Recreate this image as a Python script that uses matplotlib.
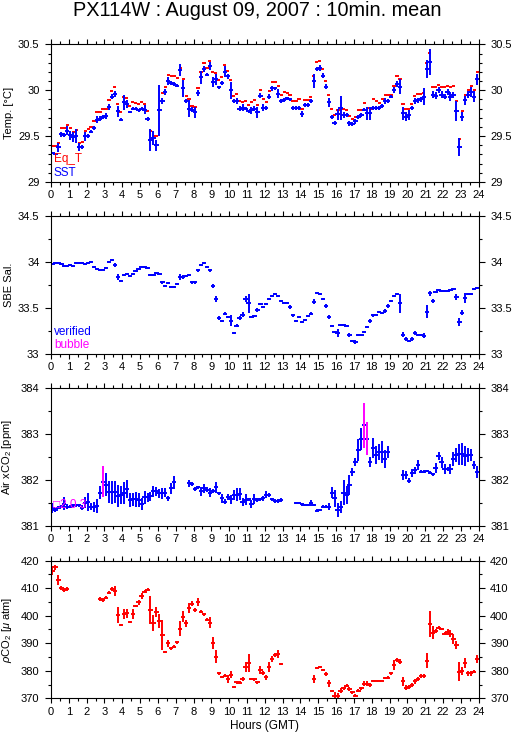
import numpy as np
import matplotlib
matplotlib.use('Agg')
import matplotlib.pyplot as plt
from matplotlib.ticker import MultipleLocator, FormatStrFormatter

plt.rcParams['font.family'] = ['Liberation Sans', 'DejaVu Sans']
plt.rcParams['mathtext.fontset'] = 'custom'
plt.rcParams['mathtext.rm'] = 'Liberation Sans'
plt.rcParams['mathtext.it'] = 'Liberation Sans:italic'

# 10-minute bins over the day (hours GMT)
hours = (np.arange(144) + 0.5) / 6.0

# --- temperature ---
sst = np.array([
    29.32, 29.31, 29.38, 29.52, 29.51, 29.56, 29.51, 29.49, 29.50, 29.38, 29.38, 29.50,
    29.50, 29.55, 29.59, 29.68, 29.69, 29.71, 29.72, 29.82, 29.93, 29.96, 29.77, 29.68,
    29.87, 29.85, 29.76, 29.80, 29.80, 29.78, 29.80, 29.79, 29.69, 29.46, 29.48, 29.40,
    29.78, 29.88, 29.98, 30.10, 30.08, 30.07, 30.05, 30.22, 30.02, 29.88, 29.80, 29.79,
    29.76, 29.97, 30.14, 30.23, 30.17, 30.26, 30.09, 30.12, 30.03, 30.08, 30.20, 30.15,
    30.00, 29.88, 29.88, 29.80, 29.81, 29.80, 29.77, 29.78, 29.80, 29.76, 29.94, 29.81,
    29.81, 29.93, 30.02, 30.02, 29.96, 29.88, 29.89, 29.91, 29.90, 29.81, 29.81, 29.81,
    29.74, 29.84, 29.84, 29.88, 30.10, 30.23, 30.24, 30.16, 30.04, 29.87, 29.71, 29.64,
    29.74, 29.81, 29.73, 29.73, 29.64, 29.63, 29.66, 29.71, 29.73, 29.79, 29.75, 29.75,
    29.81, 29.81, 29.81, 29.83, 29.88, 29.88, 29.93, 30.00, 30.07, 30.04, 29.75, 29.71,
    29.73, 29.81, 29.88, 29.89, 29.90, 29.93, 30.23, 30.31, 29.95, 29.94, 30.00, 29.95,
    29.93, 29.98, 29.93, 29.95, 29.77, 29.38, 29.71, 29.89, 29.95, 29.98, 29.93, 30.12,
], dtype=float)

sst_sd = np.array([
    .01, .01, .05, .03, .02, .045, .05, .055, .075, .045, .02, .05,
    .02, .02, .02, .04, .03, .02, .03, .03, .03, .03, .06, .02,
    .08, .04, .01, .02, .02, .02, .02, .05, .02, .12, .08, .06,
    .28, .03, .03, .04, .02, .02, .02, .065, .095, .02, .095, .03,
    .06, .03, .07, .03, .02, .045, .055, .06, .02, .02, .06, .03,
    .095, .02, .03, .03, .04, .02, .02, .04, .03, .06, .03, .04,
    .02, .03, .03, .02, .05, .02, .02, .02, .02, .02, .02, .02,
    .03, .02, .02, .02, .08, .02, .03, .03, .03, .05, .02, .02,
    .06, .13, .03, .02, .03, .02, .03, .02, .02, .02, .07, .07,
    .02, .02, .02, .02, .03, .02, .02, .03, .03, .08, .07, .05,
    .05, .02, .03, .03, .03, .09, .10, .14, .04, .04, .03, .04,
    .03, .03, .05, .03, .11, .10, .05, .05, .04, .05, .06, .06,
], dtype=float)

eq_t = np.array([
    29.39, 29.39, 29.43, 29.59, 29.59, 29.62, 29.59, 29.55, 29.57, 29.43, 29.44, 29.56,
    29.58, 29.60, 29.67, 29.76, 29.76, 29.80, 29.80, 29.89, 29.99, 30.04, 29.85, 29.76,
    29.93, 29.92, 29.83, 29.87, 29.86, 29.85, 29.87, 29.85, 29.77, 29.56, 29.50, 29.50,
    None, 29.97, 30.03, 30.17, 30.15, 30.15, 30.13, 30.24, 30.12, 29.94, 29.90, 29.83,
    29.82, 30.02, 30.20, 30.30, 30.24, 30.32, 30.20, 30.19, 30.11, 30.14, 30.27, 30.21,
    30.11, 29.94, 29.96, 29.88, 29.87, 29.88, 29.84, 29.87, 29.89, 29.84, 30.00, 29.90,
    29.87, 29.99, 30.09, 30.09, 30.05, 29.95, 29.98, 29.97, 29.95, 29.88, 29.88, 29.90,
    29.80, 29.89, 29.89, 29.93, 30.15, 30.31, 30.32, 30.23, 30.10, 29.95, 29.80, 29.73,
    29.79, 29.79, 29.80, 29.79, 29.72, 29.69, 29.71, 29.78, 29.79, 29.86, 29.81, 29.80,
    29.90, 29.88, 29.86, 29.90, 29.95, 29.95, 29.95, 30.05, 30.15, 30.12, 29.85, 29.80,
    29.80, 29.85, 29.94, 29.96, 29.96, 29.97, 30.30, 30.41, 30.04, 30.03, 30.06, 30.04,
    30.03, 30.05, 30.03, 30.05, 29.88, 29.47, 29.77, 29.95, 30.00, 30.05, 30.00, 30.20,
], dtype=float)

# --- salinity ---
sal = np.array([
    33.98, 33.99, 33.99, 33.98, 33.96, 33.96, 33.97, 33.96, 33.99, 33.99, 33.99, 33.98,
    33.99, 34.00, 33.95, 33.93, 33.91, 33.92, 33.94, 34.00, 34.02, 33.97, 33.84, 33.80,
    33.86, 33.87, 33.85, 33.87, 33.90, 33.93, 33.95, 33.95, 33.94, 33.86, 33.86, 33.88,
    33.87, 33.78, 33.74, 33.77, 33.73, 33.73, 33.76, 33.84, 33.84, 33.85, 33.86, 33.78,
    33.78, 33.91, 33.97, 33.99, 33.95, 33.91, 33.74, 33.60, 33.39, 33.36, 33.44, 33.40,
    33.36, 33.23, 33.31, 33.39, 33.43, 33.60, 33.55, 33.40, 33.41, 33.48, 33.54, 33.51,
    33.54, 33.60, 33.63, 33.65, 33.63, 33.58, 33.56, 33.56, 33.51, 33.42, 33.36, 33.40,
    33.35, 33.37, 33.41, 33.44, 33.57, 33.66, 33.65, 33.60, 33.52, 33.40, 33.31, 33.24,
    33.23, 33.32, 33.32, 33.31, 33.21, 33.14, 33.13, 33.21, 33.21, 33.24, 33.29, 33.36,
    33.42, 33.43, 33.46, 33.45, 33.47, 33.52, 33.58, 33.63, 33.65, 33.55, 33.21, 33.16,
    33.14, 33.16, 33.23, 33.21, 33.21, 33.20, 33.46, 33.66, 33.58, 33.67, 33.70, 33.69,
    33.69, 33.69, 33.70, 33.71, 33.62, 33.35, 33.45, 33.61, 33.65, 33.65, 33.71, 33.72,
], dtype=float)

sal_sd = np.array([
    .01, .01, .01, .01, .01, .01, .01, .01, .01, .01, .01, .01,
    .01, .01, .01, .01, .01, .01, .01, .01, .01, .02, .03, .01,
    .01, .01, .01, .01, .01, .01, .01, .01, .01, .01, .01, .01,
    .01, .02, .01, .01, .01, .01, .01, .03, .02, .01, .01, .02,
    .02, .02, .01, .01, .01, .02, .02, .03, .02, .01, .02, .01,
    .06, .01, .02, .02, .03, .03, .10, .01, .01, .02, .01, .01,
    .01, .01, .01, .01, .01, .01, .01, .01, .02, .02, .01, .01,
    .01, .01, .01, .02, .03, .01, .01, .01, .02, .02, .01, .01,
    .04, .01, .01, .01, .02, .01, .02, .01, .01, .01, .01, .02,
    .02, .01, .01, .01, .02, .02, .01, .01, .01, .10, .03, .02,
    .01, .02, .02, .01, .01, .03, .07, .03, .02, .01, .01, .01,
    .01, .01, .01, .01, .03, .04, .03, .05, .01, .01, .01, .01,
], dtype=float)

# --- air xCO2 ---
air = np.array([
    381.40, 381.35, 381.40, 381.42, 381.49, 381.42, 381.42, 381.45, 381.45, 381.45, 381.40, 381.51,
    381.53, 381.42, 381.42, 381.44, 381.73, 381.97, 381.90, 381.74, 381.74, 381.74, 381.66, 381.68,
    381.71, 381.80, 381.57, 381.58, 381.58, 381.57, 381.48, 381.63, 381.63, 381.65, 381.76, 381.76,
    381.71, 381.71, 381.73, 381.60, 381.82, 381.95, None, None, None, None, 381.93, 381.92,
    381.80, 381.84, 381.76, 381.82, 381.79, 381.73, 381.77, 381.84, 381.71, 381.60, 381.53, 381.63,
    381.58, 381.68, 381.68, 381.70, 381.53, 381.57, 381.58, 381.48, 381.58, 381.57, 381.58, 381.60,
    381.68, 381.68, 381.58, 381.55, 381.55, 381.57, None, None, None, None, 381.50, 381.50,
    381.47, 381.46, 381.46, 381.50, 381.46, 381.33, 381.35, 381.42, 381.42, 381.42, 381.73, 381.60,
    381.35, 381.42, 381.73, 381.68, 381.90, 382.17, 382.39, 382.65, 382.90, 383.20, 382.90, 382.40,
    382.70, 382.55, 382.61, 382.61, 382.46, 382.61, None, None, None, None, 382.11, 382.11,
    381.99, 382.15, 382.21, 382.33, 382.18, 382.18, 382.20, 382.16, 382.13, 382.26, 382.53, 382.39,
    382.24, 382.24, 382.24, 382.46, 382.55, 382.56, 382.56, 382.53, 382.55, 382.55, 382.33, 382.17,
], dtype=float)

air_sd = np.array([
    .11, .04, .03, .03, .14, .06, .03, .03, .03, .03, .05, .12,
    .20, .08, .11, .15, .15, .34, .25, .24, .25, .24, .24, .20,
    .24, .20, .16, .15, .16, .15, .13, .14, .10, .10, .12, .10,
    .10, .12, .10, .06, .12, .15, 0, 0, 0, 0, .08, .04,
    .04, .04, .10, .10, .05, .09, .04, .11, .04, .10, .05, .07,
    .09, .11, .14, .13, .09, .12, .04, .08, .11, .04, .04, .05,
    .08, .05, .04, .04, .04, .04, 0, 0, 0, 0, .03, .03,
    .03, .02, .02, .07, .03, .03, .03, .03, .03, .08, .12, .18,
    .15, .13, .27, .20, .22, .09, .09, .24, .24, .49, .36, .11,
    .22, .20, .18, .24, .20, .13, 0, 0, 0, 0, .11, .09,
    .05, .09, .08, .10, .03, .03, .03, .03, .03, .11, .09, .12,
    .11, .05, .11, .16, .16, .22, .24, .22, .16, .13, .09, .13,
], dtype=float)

air_flagged = [17, 105, 106]

# --- pCO2 ---
pco2 = np.array([
    416.4, 417.6, 413.0, 410.0, 409.3, 409.7, None, None, None, None, None, None,
    None, None, None, None, 406.1, 405.7, 406.6, 408.4, 409.7, 409.0, 400.3, 396.6,
    400.5, 400.9, 397.6, 400.5, 403.5, 404.9, 407.2, 408.7, 409.5, 402.1, 397.2, 401.2,
    398.1, 393.0, 386.7, 390.0, 388.2, 388.8, 390.3, 395.2, 399.7, 397.2, 402.7, 404.3,
    402.1, 404.9, 401.5, 400.5, 398.5, 397.5, 390.0, 385.1, 379.1, 377.6, 378.2, 376.9,
    378.5, 374.0, 375.8, 375.7, 377.0, 381.5, 382.7, 377.0, 376.9, 375.8, 380.3, 379.1,
    377.6, 381.5, 384.3, 385.7, 386.1, 382.5, None, None, None, None, None, None,
    None, None, None, None, 377.0, 380.9, 381.3, 380.3, 378.8, 375.4, 372.7, 371.0,
    371.0, 372.8, 373.6, 374.6, 373.4, 372.1, 371.0, 372.7, 373.6, 375.2, 375.2, 374.8,
    376.4, 376.4, 376.4, 376.4, 377.3, 377.5, 379.1, 382.1, 383.8, 383.3, 376.1, 373.9,
    374.0, 374.8, 376.1, 377.0, 378.1, 378.2, 383.7, 396.9, 393.8, 394.5, 395.7, 395.2,
    393.4, 394.2, 393.4, 391.5, 389.4, 379.7, 380.0, 382.7, 379.1, 379.1, 379.7, 384.3,
], dtype=float)

pco2_sd = np.array([
    1.5, .9, 1.9, .6, .6, .6, 0, 0, 0, 0, 0, 0,
    0, 0, 0, 0, .8, .6, .6, .6, .6, 1.7, 3.0, .3,
    1.8, 1.7, .3, 1.8, .4, .9, 1.0, .5, .5, 5.1, 2.9, 1.8,
    2.4, 5.4, .4, 1.2, .5, .5, .5, 2.7, 2.1, 1.4, 1.8, .9,
    .6, 1.5, .5, .6, .6, 2.1, 2.1, 2.4, .6, .4, .5, 1.5,
    1.3, .4, .5, .4, .8, 1.8, 3.3, .4, .5, .5, 1.4, .8,
    .8, 1.8, 1.1, .6, 1.4, .3, 0, 0, 0, 0, 0, 0,
    0, 0, 0, 0, 1.5, .4, .4, .5, .6, 1.2, .3, 1.2,
    .8, .8, .5, .5, .6, .5, .6, .5, .5, .9, .9, .8,
    .3, .3, .3, .3, .4, .6, .6, 1.8, .8, .8, 1.8, 1.0,
    .8, .6, .8, .8, .8, .7, 2.7, 4.7, 2.4, .8, .6, .5,
    .5, 1.1, 1.3, 1.9, 1.5, 3.5, 1.5, 1.8, .9, .9, .6, 1.6,
], dtype=float)

BLUE = '#0000ff'
RED = '#ff0000'
MAG = '#ff00ff'
LW = 1.4


def crosses(ax, y, sd=None, color=BLUE, half=0.12, vcolor=None):
    ok = ~np.isnan(y)
    ax.hlines(y[ok], hours[ok] - half, hours[ok] + half, colors=color, lw=LW)
    if sd is not None:
        ax.vlines(hours[ok], (y - sd)[ok], (y + sd)[ok],
                  colors=vcolor if vcolor else color, lw=LW)


def setup(ax, ylo, yhi, major, minor, ylabel):
    ax.set_xlim(0, 24)
    ax.set_ylim(ylo, yhi)
    ax.xaxis.set_major_locator(MultipleLocator(1))
    ax.xaxis.set_minor_locator(MultipleLocator(0.5))
    ax.yaxis.set_major_locator(MultipleLocator(major))
    ax.yaxis.set_minor_locator(MultipleLocator(minor))
    ax.yaxis.set_major_formatter(FormatStrFormatter('%g'))
    ax.tick_params(which='both', direction='out', top=True, right=True,
                   labelright=True, labelsize=8, width=0.8)
    ax.tick_params(axis='x', which='major', length=3.6, pad=2.5)
    ax.tick_params(axis='y', which='major', length=4.3, pad=4)
    ax.tick_params(which='minor', length=2.2)
    for s in ax.spines.values():
        s.set_linewidth(0.8)
    ax.set_ylabel(ylabel, fontsize=8)
    ax.yaxis.set_label_coords(-0.087, 0.5)


fig = plt.figure(figsize=(5.15, 7.39), dpi=100)
rects = [0.7537, 0.5210, 0.2882, 0.0551]
axes = [fig.add_axes([0.0990, b, 0.8305, 0.1863]) for b in rects]

fig.text(0.5, 1 - 11 / 739, 'PX114W : August 09, 2007 : 10min. mean',
         ha='center', va='center', fontsize=14.3)

# panel 1: temperature
ax = axes[0]
crosses(ax, eq_t, None, RED, half=0.09)
crosses(ax, sst, sst_sd, BLUE)
setup(ax, 29, 30.5, 0.5, 0.1, 'Temp. [°C]')
ax.text(0.007, 0.167, 'Eq_T', color=RED, fontsize=8.5, transform=ax.transAxes, va='center')
ax.text(0.007, 0.069, 'SST', color=BLUE, fontsize=8.5, transform=ax.transAxes, va='center')

# panel 2: salinity
ax = axes[1]
crosses(ax, sal, sal_sd, BLUE)
setup(ax, 33, 34.5, 0.5, 0.25, 'SBE Sal.')
ax.text(0.007, 0.16, 'verified', color=BLUE, fontsize=8.5, transform=ax.transAxes, va='center')
ax.text(0.007, 0.062, 'bubble', color=MAG, fontsize=8.5, transform=ax.transAxes, va='center')

# panel 3: air xCO2
ax = axes[2]
good = air.copy()
good[air_flagged] = np.nan
crosses(ax, good, air_sd, BLUE)
flag = np.full_like(air, np.nan)
flag[air_flagged] = air[air_flagged]
crosses(ax, flag, air_sd, BLUE, vcolor=MAG)
setup(ax, 381, 384, 1, 0.5, 'Air xCO$_2$ [ppm]')
ax.text(0.005, 0.156, '\u25a12 0 3', color=MAG, fontsize=8.5, transform=ax.transAxes, va='center')

# panel 4: pCO2
ax = axes[3]
crosses(ax, pco2, pco2_sd, RED)
setup(ax, 370, 420, 10, 5, r'$\rho$CO$_2$ [$\mu$ atm]')
ax.set_xlabel('Hours (GMT)', fontsize=8.5, labelpad=2)

fig.savefig('out.png', dpi=100)
